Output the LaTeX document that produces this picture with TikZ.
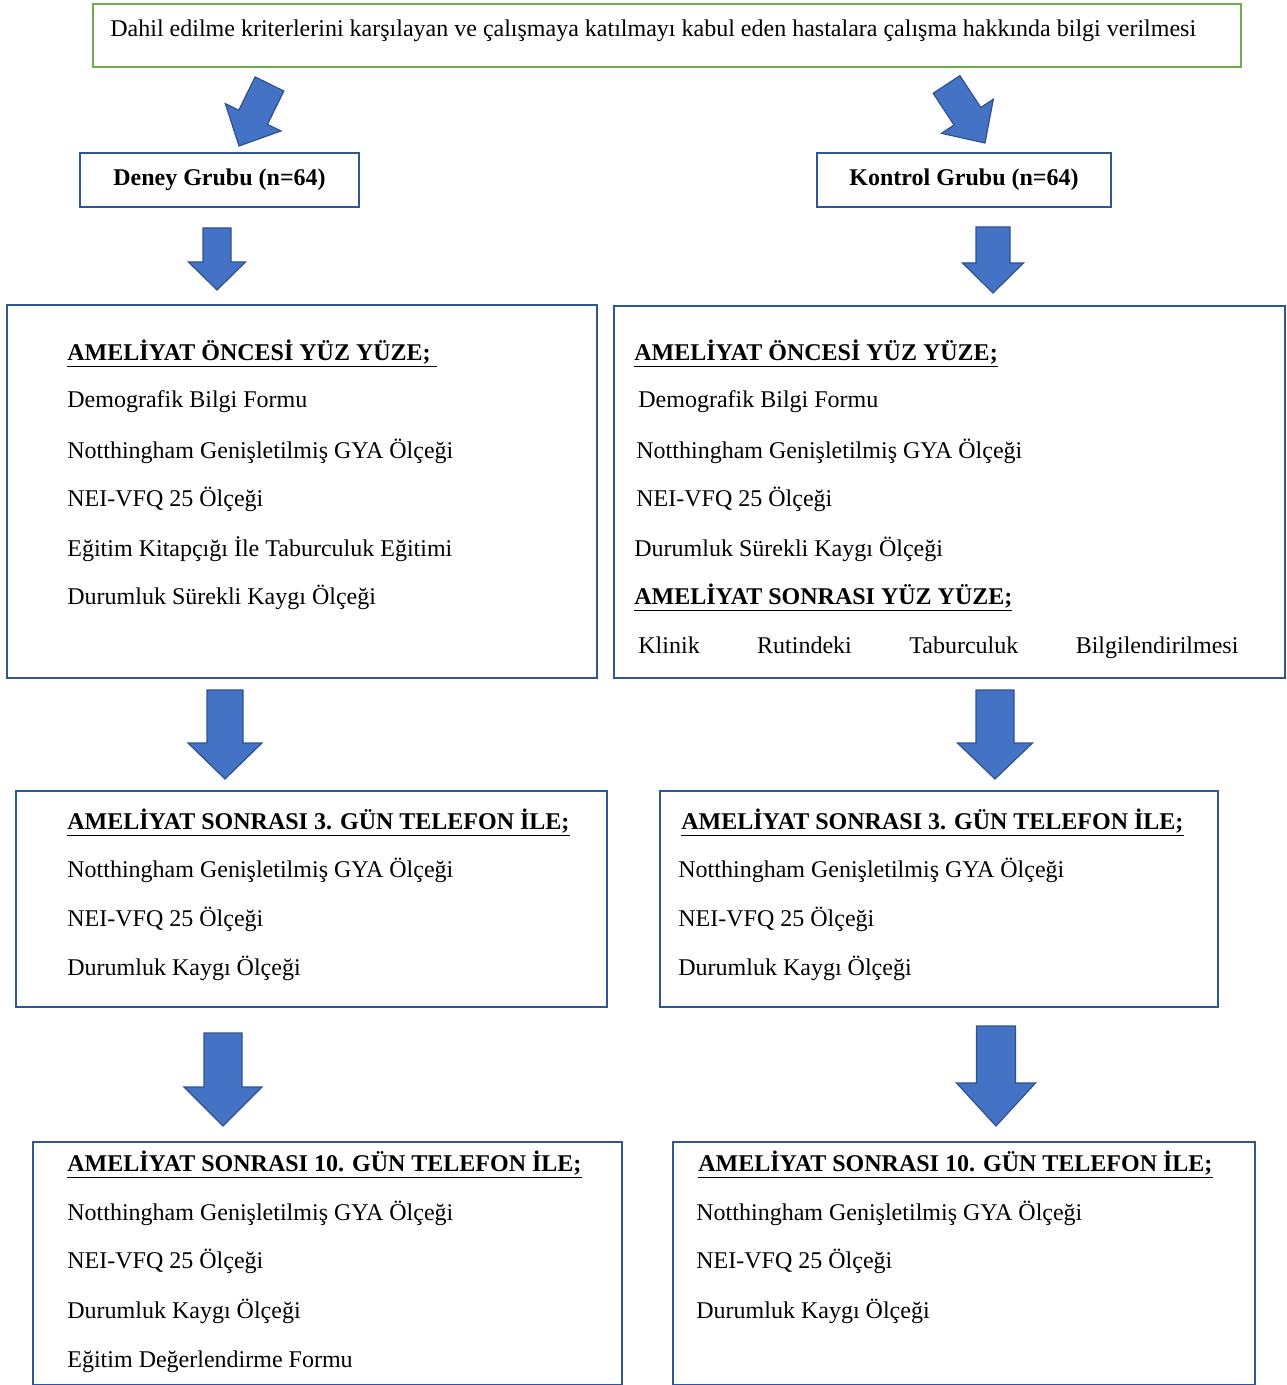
\documentclass[tikz,border=0pt]{standalone}
\usepackage{fontspec}
\setmainfont{Liberation Serif}
\usetikzlibrary{calc,positioning}

\definecolor{boxblue}{HTML}{2F5597}
\definecolor{boxgreen}{HTML}{70AD47}
\definecolor{okblue}{HTML}{4472C4}
\definecolor{okedge}{HTML}{2F528F}

\tikzset{
  frame/.style={draw=boxblue, line width=1pt, anchor=north west, inner sep=0pt},
  entry/.style={anchor=base west, inner sep=0pt},
  heading/.style={entry, font=\fontsize{12}{14.4}\selectfont\bfseries},
  blokok/.style={fill=okblue, draw=okedge, line width=0.6pt, line join=miter}
}

% block arrow: tail, tip, shaft half width, head half width, head length
\newcommand{\blokok}[5]{%
  \coordinate (#1-h) at ($(#2)!#5!(#1)$);
  \filldraw[blokok] ($(#1)!#3!90:(#2)$) -- ($(#1-h)!#3!90:(#2)$) -- ($(#1-h)!#4!90:(#2)$)
    -- (#2) -- ($(#1-h)!#4!-90:(#2)$) -- ($(#1-h)!#3!-90:(#2)$) -- ($(#1)!#3!-90:(#2)$) -- cycle;
}

\begin{document}
\begin{tikzpicture}[x=0.5pt, y=-0.5pt, font=\fontsize{12}{14.4}\selectfont]
    \useasboundingbox (0,0) rectangle (1286,1385);

    % Top box
    % ---------------------
    \node[frame, draw=boxgreen, minimum width=574pt, minimum height=31.5pt] (bilgi) at (92,3) {};
    \node[entry] (bilgi-t) at (110,37) {Dahil edilme kriterlerini karşılayan ve çalışmaya katılmayı kabul eden hastalara çalışma hakkında bilgi verilmesi};

    % Groups
    % ---------------------
    \node[frame, minimum width=139.5pt, minimum height=27pt] (deney) at (79,152) {\textbf{Deney Grubu (n=64)}};
    \node[frame, minimum width=147pt, minimum height=27pt] (kontrol) at (816,152) {\textbf{Kontrol Grubu (n=64)}};

    % Before surgery
    % ---------------------
    \node[frame, minimum width=295pt, minimum height=186.5pt] (dOnce) at (6,304) {};
    \node[heading] (dOnce-0) at (67,360) {\underline{AMELİYAT ÖNCESİ YÜZ YÜZE;\ }};
    \node[entry] (dOnce-1) at (67,408) {Demografik Bilgi Formu};
    \node[entry] (dOnce-2) at (67,458) {Notthingham Genişletilmiş GYA Ölçeği};
    \node[entry] (dOnce-3) at (67,506) {NEI-VFQ 25 Ölçeği};
    \node[entry] (dOnce-4) at (67,556) {Eğitim Kitapçığı İle Taburculuk Eğitimi};
    \node[entry] (dOnce-5) at (67,604) {Durumluk Sürekli Kaygı Ölçeği};

    \node[frame, minimum width=335.5pt, minimum height=186pt] (kOnce) at (613,305) {};
    \node[heading] (kOnce-0) at (634,360) {\underline{AMELİYAT ÖNCESİ YÜZ YÜZE;}};
    \node[entry] (kOnce-1) at (638,408) {Demografik Bilgi Formu};
    \node[entry] (kOnce-2) at (636,458) {Notthingham Genişletilmiş GYA Ölçeği};
    \node[entry] (kOnce-3) at (636,506) {NEI-VFQ 25 Ölçeği};
    \node[entry] (kOnce-4) at (634,556) {Durumluk Sürekli Kaygı Ölçeği};
    \node[heading] (kOnce-5) at (634,604) {\underline{AMELİYAT SONRASI YÜZ YÜZE;}};
    \node[entry] (kOnce-6) at (638,653) {\makebox[300pt][s]{Klinik Rutindeki Taburculuk Bilgilendirilmesi}};

    % Day 3
    % ---------------------
    \node[frame, minimum width=295.5pt, minimum height=108pt] (dUc) at (15,790) {};
    \node[heading] (dUc-0) at (67,829) {\underline{AMELİYAT SONRASI 3. GÜN TELEFON İLE;}};
    \node[entry] (dUc-1) at (67,877) {Notthingham Genişletilmiş GYA Ölçeği};
    \node[entry] (dUc-2) at (67,926) {NEI-VFQ 25 Ölçeği};
    \node[entry] (dUc-3) at (67,975) {Durumluk Kaygı Ölçeği};

    \node[frame, minimum width=279pt, minimum height=108pt] (kUc) at (659,790) {};
    \node[heading] (kUc-0) at (681,829) {\underline{AMELİYAT SONRASI 3. GÜN TELEFON İLE;}};
    \node[entry] (kUc-1) at (678,877) {Notthingham Genişletilmiş GYA Ölçeği};
    \node[entry] (kUc-2) at (678,926) {NEI-VFQ 25 Ölçeği};
    \node[entry] (kUc-3) at (678,975) {Durumluk Kaygı Ölçeği};

    % Day 10
    % ---------------------
    \node[frame, minimum width=294.5pt, minimum height=121.5pt] (dOn) at (32,1141) {};
    \node[heading] (dOn-0) at (67,1171) {\underline{AMELİYAT SONRASI 10. GÜN TELEFON İLE;}};
    \node[entry] (dOn-1) at (67,1220) {Notthingham Genişletilmiş GYA Ölçeği};
    \node[entry] (dOn-2) at (67,1268) {NEI-VFQ 25 Ölçeği};
    \node[entry] (dOn-3) at (67,1318) {Durumluk Kaygı Ölçeği};
    \node[entry] (dOn-4) at (67,1367) {Eğitim Değerlendirme Formu};

    \node[frame, minimum width=291pt, minimum height=121.5pt] (kOn) at (672,1141) {};
    \node[heading] (kOn-0) at (698,1171) {\underline{AMELİYAT SONRASI 10. GÜN TELEFON İLE;}};
    \node[entry] (kOn-1) at (696,1220) {Notthingham Genişletilmiş GYA Ölçeği};
    \node[entry] (kOn-2) at (696,1268) {NEI-VFQ 25 Ölçeği};
    \node[entry] (kOn-3) at (696,1318) {Durumluk Kaygı Ölçeği};

    % Arrows
    % ---------------------
    \coordinate (a1) at (269.5,84);  \coordinate (a1e) at (239,146);
    \coordinate (b1) at (946.5,84.5); \coordinate (b1e) at (985,143);
    \coordinate (a2) at (217,228);   \coordinate (a2e) at (217,290);
    \coordinate (b2) at (993,227);   \coordinate (b2e) at (993,293);
    \coordinate (a3) at (225,690);   \coordinate (a3e) at (225,779);
    \coordinate (b3) at (995,690);   \coordinate (b3e) at (995,779);
    \coordinate (a4) at (223,1033);  \coordinate (a4e) at (223,1126);
    \coordinate (b4) at (996,1026);  \coordinate (b4e) at (996,1126);

    \blokok{a1}{a1e}{8pt}{15.5pt}{16pt}
    \blokok{b1}{b1e}{8pt}{15.5pt}{16pt}
    \blokok{a2}{a2e}{7pt}{14.25pt}{14pt}
    \blokok{b2}{b2e}{8.5pt}{15.25pt}{15pt}
    \blokok{a3}{a3e}{9pt}{18.5pt}{18pt}
    \blokok{b3}{b3e}{9.5pt}{18.75pt}{18pt}
    \blokok{a4}{a4e}{9.5pt}{19.5pt}{19.5pt}
    \blokok{b4}{b4e}{9.75pt}{19.75pt}{21.5pt}
  \end{tikzpicture}
\end{document}
